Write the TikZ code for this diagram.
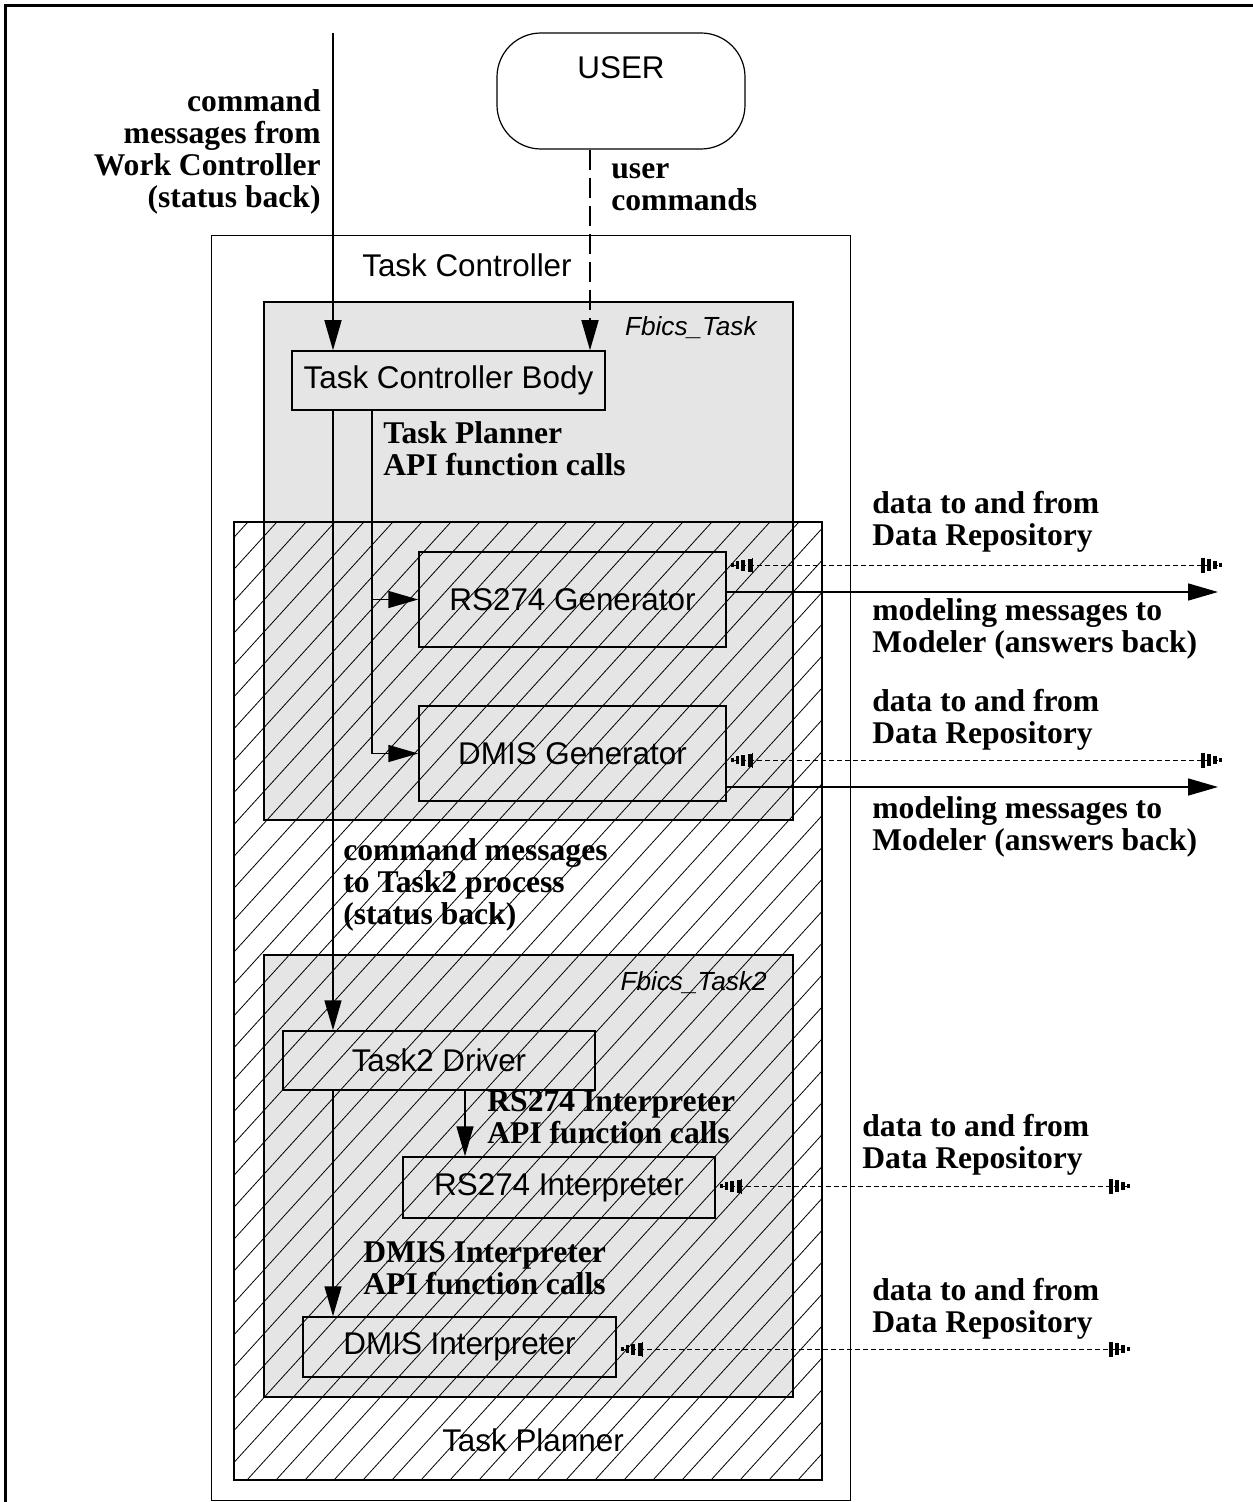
\documentclass[tikz,border=0pt]{standalone}
\usepackage{fontspec}
\setmainfont{Liberation Serif}
\setsansfont{Liberation Sans}
\usetikzlibrary{arrows.meta}
\definecolor{panel}{RGB}{229,229,229}
\begin{document}
\begin{tikzpicture}[x=0.5pt,y=-0.5pt,
  >={Triangle[length=15pt,width=8.5pt]},
  box/.style={draw, line width=0.75pt, fill=panel, inner sep=0pt,
    font=\sffamily\fontsize{15.7}{18}\selectfont},
  boldnote/.style={inner sep=0pt, align=left,
    font=\bfseries\fontsize{15.8}{16}\selectfont},
  sanslabel/.style={inner sep=0pt, font=\sffamily\fontsize{15.7}{18}\selectfont},
  italabel/.style={inner sep=0pt, font=\sffamily\itshape\fontsize{13.1}{15}\selectfont},
  wire/.style={line width=0.75pt},
  datalink/.style={line width=0.5pt, dash pattern=on 2.5pt off 1.5pt, shorten <=1pt,
    {Bar[width=2pt,line width=1.6pt,sep=0.9pt] Bar[width=4pt,line width=1.8pt,sep=0.9pt] Bar[width=5.5pt,line width=1.8pt,sep=0.9pt] Bar[width=6.5pt,line width=1.8pt,sep=1.8pt] Bar[width=7.5pt,line width=0.4pt]}-{Bar[width=7.5pt,line width=2pt,sep=1.1pt] Bar[width=6pt,line width=1.8pt,sep=1.1pt] Bar[width=4pt,line width=1.8pt,sep=1.1pt] Bar[width=2pt,line width=1.6pt]}},
]
\useasboundingbox (0,0) rectangle (1252,1502);

% page frame
\draw[line width=1.4pt] (5.5,5.5) rectangle (1270,1520);

% external user
\node[draw, line width=0.6pt, rounded corners=22pt, minimum width=124pt, minimum height=58pt] (user) at (621,91) {};
\node[sanslabel] (usertxt) at (621,68) {USER};

% Task Controller frame
\draw[line width=0.5pt] (211,236) rectangle (850,1500);
\node[sanslabel] (tclabel) at (467,265) {Task Controller};

% process panels
\draw[line width=0.75pt, fill=panel] (264,302) rectangle (793,820);
\node[italabel, anchor=east] (fbt) at (757,328) {Fbics\_Task};
\draw[line width=0.75pt, fill=panel] (264,955) rectangle (793,1397);
\node[italabel, anchor=east] (fbt2) at (767,983) {Fbics\_Task2};

% components
\node[box, minimum width=156.5pt, minimum height=29.5pt] (tcb) at (448.5,380.5) {Task Controller Body};
\node[box, minimum width=153.5pt, minimum height=47.5pt] (rs274g) at (572.5,599.5) {RS274 Generator};
\node[box, minimum width=153.5pt, minimum height=47.5pt] (dmisg) at (572.5,753.5) {DMIS Generator};
\node[box, minimum width=156pt, minimum height=29.5pt] (t2d) at (439,1060.5) {Task2 Driver};
\node[box, minimum width=156pt, minimum height=30.5pt] (rs274i) at (559,1187.5) {RS274 Interpreter};
\node[box, minimum width=156.5pt, minimum height=30pt] (dmisi) at (459.5,1347) {DMIS Interpreter};

% Task Planner region
\draw[line width=0.75pt] (234,522) rectangle (822,1480);
\node[sanslabel] (tplabel) at (533,1440) {Task Planner};

% connectors
\coordinate (wcin) at (333,33);
\coordinate (ucol) at (590,0);
\coordinate (apix) at (372,0);
\coordinate (ricol) at (465,0);
\draw[wire,->] (wcin) -- (wcin |- tcb.north);
\draw[wire,dash pattern=on 10pt off 4pt,->] (ucol |- user.south) -- (ucol |- tcb.north);
\draw[wire,->] (wcin |- tcb.south) -- (wcin |- t2d.north);
\draw[wire,->] (apix |- tcb.south) -- (apix |- dmisg.west) -- (dmisg.west);
\draw[wire,->] (apix |- rs274g.west) -- (rs274g.west);
\draw[wire,->] (wcin |- t2d.south) -- (wcin |- dmisi.north);
\draw[wire,->] (ricol |- t2d.south) -- (ricol |- rs274i.north);

\coordinate (g1d) at (1222,565);
\coordinate (g1m) at (1218,592);
\coordinate (g2d) at (1222,760);
\coordinate (g2m) at (1218,787);
\coordinate (i1d) at (1130,1186);
\coordinate (i2d) at (1130,1349);
\draw[datalink] (rs274g.east |- g1d) -- (g1d);
\draw[wire,->] (rs274g.east |- g1m) -- (g1m);
\draw[datalink] (dmisg.east |- g2d) -- (g2d);
\draw[wire,->] (dmisg.east |- g2m) -- (g2m);
\draw[datalink] (rs274i.east |- i1d) -- (i1d);
\draw[datalink] (dmisi.east |- i2d) -- (i2d);

% connector notes
\node[boldnote, align=right, anchor=east] (wcnote) at (321,152) {command\\messages from\\Work Controller\\(status back)};
\node[boldnote, anchor=west] (ucnote) at (611,187) {user\\commands};
\node[boldnote, anchor=west] (tpnote) at (383,449) {Task Planner\\API function calls};
\node[boldnote, anchor=west] (dr1) at (872,522) {data to and from\\Data Repository};
\node[boldnote, anchor=west] (mm1) at (872,629) {modeling messages to\\Modeler (answers back)};
\node[boldnote, anchor=west] (dr2) at (872,720) {data to and from\\Data Repository};
\node[boldnote, anchor=west] (mm2) at (872,827) {modeling messages to\\Modeler (answers back)};
\node[boldnote, anchor=west] (t2note) at (343,885) {command messages\\to Task2 process\\(status back)};
\node[boldnote, anchor=west] (rinote) at (487,1117) {RS274 Interpreter\\API function calls};
\node[boldnote, anchor=west] (dinote) at (363,1268) {DMIS Interpreter\\API function calls};
\node[boldnote, anchor=west] (dr3) at (862,1145) {data to and from\\Data Repository};
\node[boldnote, anchor=west] (dr4) at (872,1309) {data to and from\\Data Repository};

% hatching over the Task Planner region
\begin{scope}
  \clip (234,522) rectangle (822,1480);
  \foreach \k in {0,...,52}
    \draw[line width=0.4pt] ({-652+29*\k},1480) -- ++(880,-968);
\end{scope}
\end{tikzpicture}
\end{document}
